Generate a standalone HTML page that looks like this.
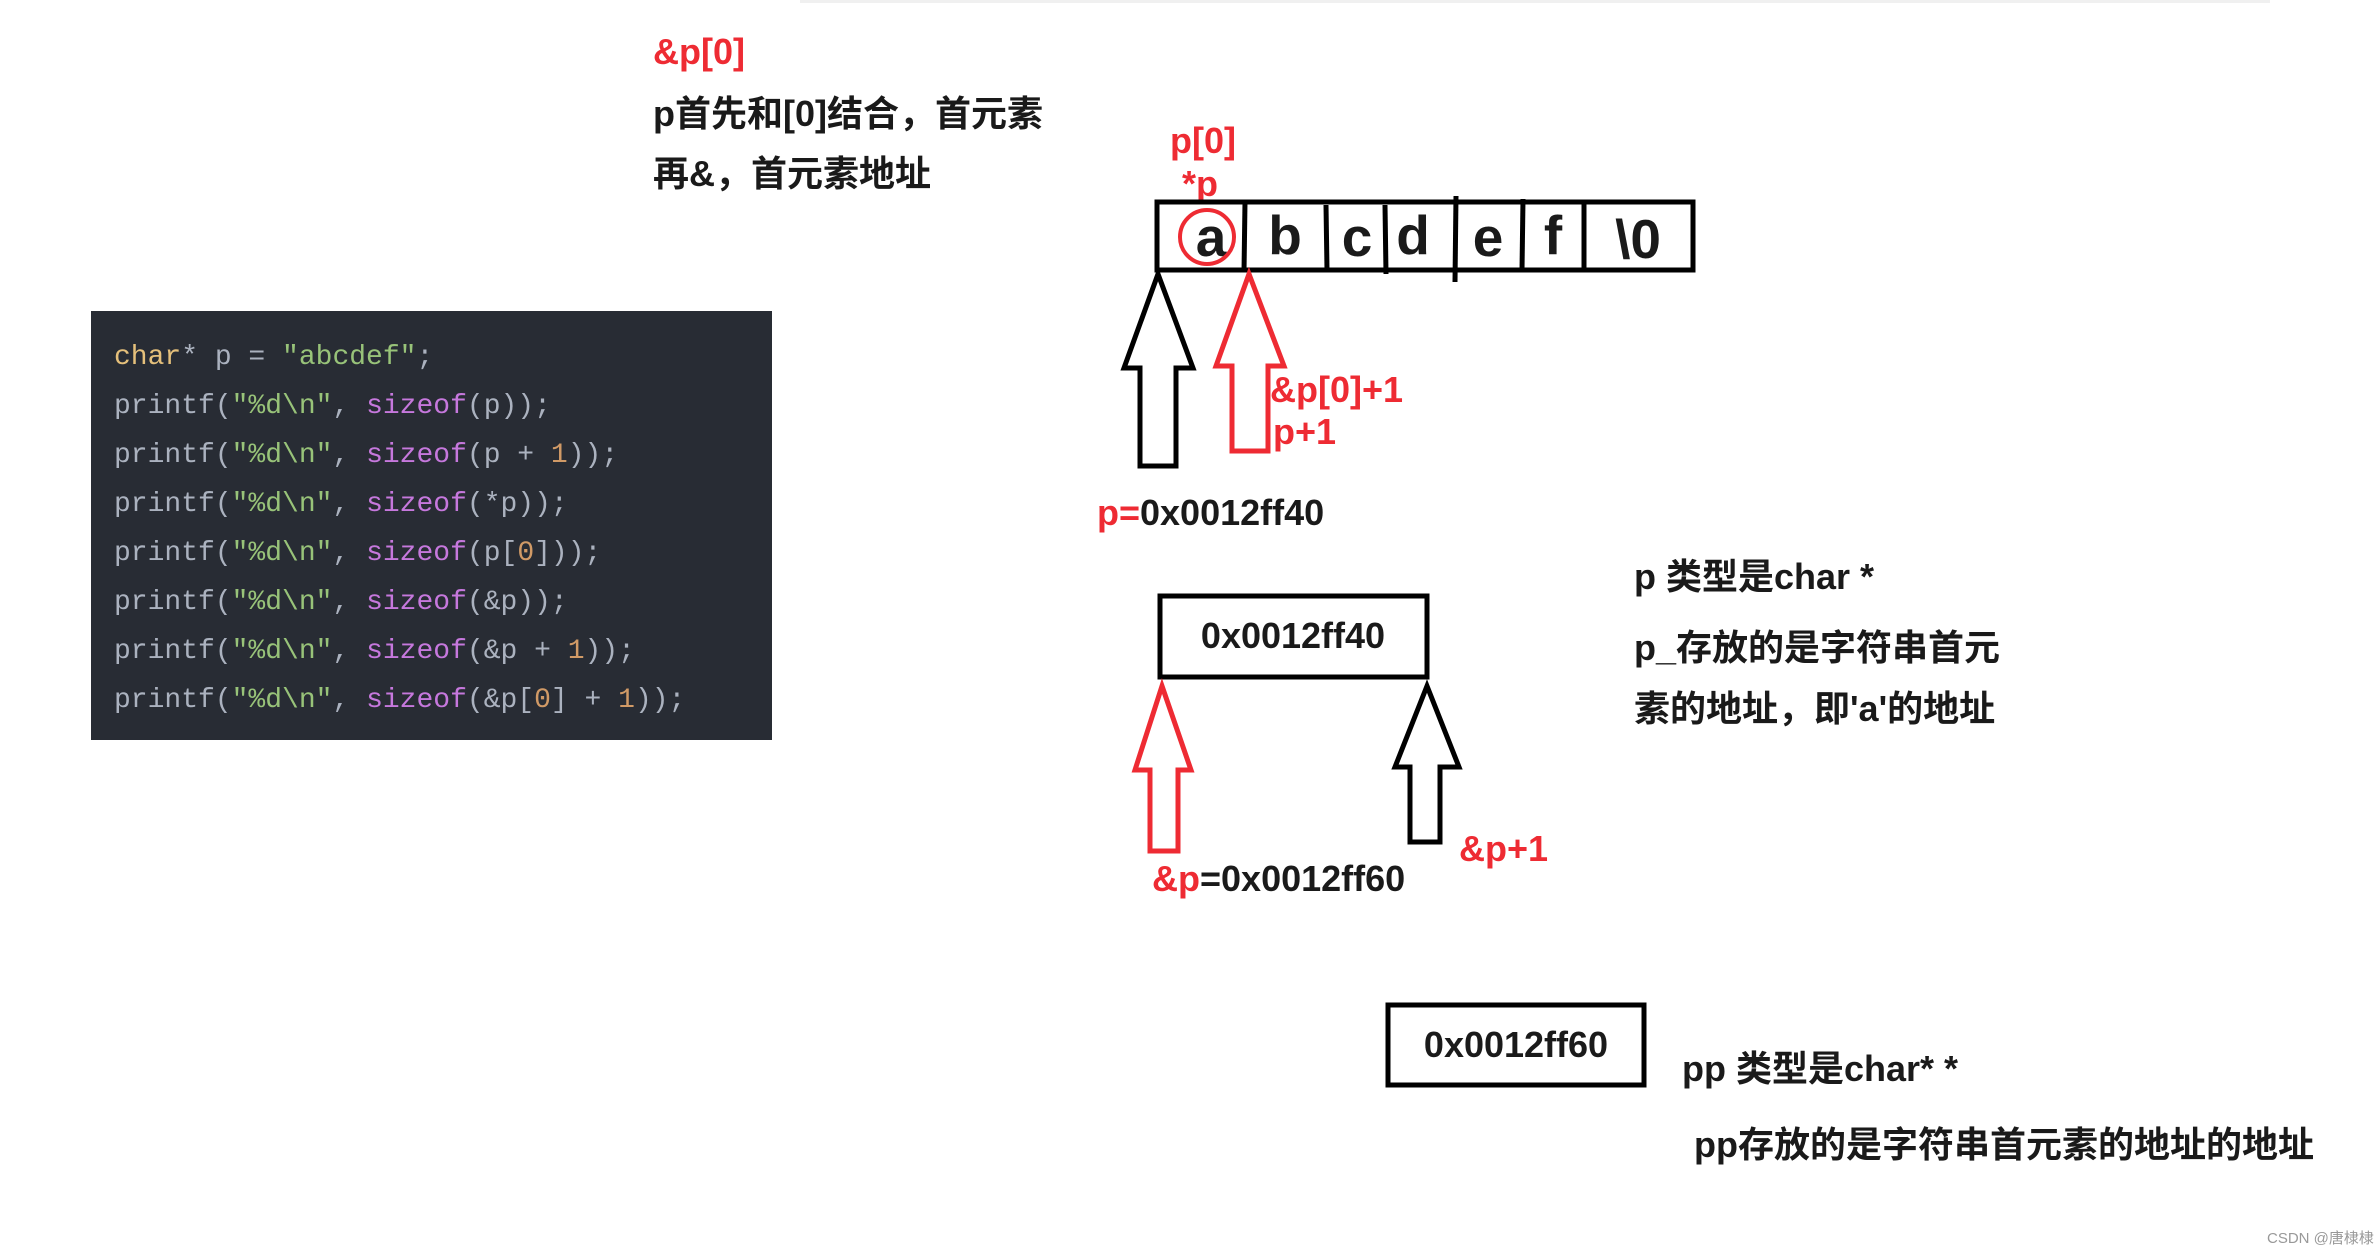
<!DOCTYPE html>
<html><head><meta charset="utf-8"><style>
html,body{margin:0;padding:0;background:#fff;}
svg{display:block;}
.t{font-family:"Liberation Sans","Noto Sans CJK SC",sans-serif;font-weight:bold;font-size:36px;fill:#1a1a1a;}
.r{fill:#ee2b33;}
.code{font-family:"Liberation Mono",monospace;font-size:28px;fill:#abb2bf;}
</style></head><body>
<svg width="2375" height="1249" viewBox="0 0 2375 1249" xmlns="http://www.w3.org/2000/svg">
<rect x="800" y="0" width="1470" height="3" fill="#f0f0f0"/>
<text class="t r" x="653" y="64">&amp;p[0]</text>
<text class="t" x="653" y="126">p首先和[0]结合，首元素</text>
<text class="t" x="653" y="186">再&amp;，首元素地址</text>

<rect x="91" y="311" width="681" height="429" fill="#282c34"/>
<g class="code">
<text x="114" y="364"><tspan fill="#e5c07b">char</tspan>* p = <tspan fill="#98c379">"abcdef"</tspan>;</text>
<text x="114" y="413">printf(<tspan fill="#98c379">"%d\n"</tspan>, <tspan fill="#c678dd">sizeof</tspan>(p));</text>
<text x="114" y="462">printf(<tspan fill="#98c379">"%d\n"</tspan>, <tspan fill="#c678dd">sizeof</tspan>(p + <tspan fill="#d19a66">1</tspan>));</text>
<text x="114" y="511">printf(<tspan fill="#98c379">"%d\n"</tspan>, <tspan fill="#c678dd">sizeof</tspan>(*p));</text>
<text x="114" y="560">printf(<tspan fill="#98c379">"%d\n"</tspan>, <tspan fill="#c678dd">sizeof</tspan>(p[<tspan fill="#d19a66">0</tspan>]));</text>
<text x="114" y="609">printf(<tspan fill="#98c379">"%d\n"</tspan>, <tspan fill="#c678dd">sizeof</tspan>(&amp;p));</text>
<text x="114" y="658">printf(<tspan fill="#98c379">"%d\n"</tspan>, <tspan fill="#c678dd">sizeof</tspan>(&amp;p + <tspan fill="#d19a66">1</tspan>));</text>
<text x="114" y="707">printf(<tspan fill="#98c379">"%d\n"</tspan>, <tspan fill="#c678dd">sizeof</tspan>(&amp;p[<tspan fill="#d19a66">0</tspan>] + <tspan fill="#d19a66">1</tspan>));</text>
</g>

<text class="t r" x="1170" y="153">p[0]</text>
<text class="t r" x="1182" y="196">*p</text>
<rect x="1157" y="202" width="536" height="68" fill="none" stroke="#000" stroke-width="5"/>
<g stroke="#000" stroke-width="5">
<line x1="1245" y1="202" x2="1244" y2="272"/>
<line x1="1326" y1="205" x2="1327" y2="270"/>
<line x1="1385" y1="205" x2="1386" y2="274"/>
<line x1="1456" y1="196" x2="1455" y2="282"/>
<line x1="1523" y1="199" x2="1522" y2="270"/>
<line x1="1584" y1="203" x2="1584" y2="270"/>
</g>
<g class="t" style="font-size:55px" text-anchor="middle">
<text x="1211" y="256">a</text><text x="1285" y="254">b</text><text x="1357" y="256">c</text><text x="1413" y="254">d</text><text x="1488" y="256">e</text><text x="1553" y="254">f</text><text x="1638" y="258">\0</text>
</g>
<circle cx="1207" cy="237" r="27" fill="none" stroke="#ee2b33" stroke-width="4"/>

<polygon points="1158,274 1193,368 1176,368 1176,466 1140,466 1140,368 1124,368" fill="none" stroke="#000" stroke-width="5" stroke-linejoin="miter"/>
<polygon points="1249,274 1284,366 1268,366 1268,451 1232,451 1232,366 1216,366" fill="none" stroke="#ee2b33" stroke-width="5"/>
<text class="t r" x="1270" y="402">&amp;p[0]+1</text>
<text class="t r" x="1273" y="444">p+1</text>
<text class="t" x="1097" y="525"><tspan class="r">p=</tspan>0x0012ff40</text>

<rect x="1160" y="596" width="267" height="81" fill="none" stroke="#000" stroke-width="5"/>
<text class="t" x="1293" y="648" text-anchor="middle">0x0012ff40</text>
<polygon points="1162,686 1191,770 1178,770 1178,851 1150,851 1150,770 1135,770" fill="none" stroke="#ee2b33" stroke-width="5"/>
<polygon points="1427,686 1459,767 1440,767 1440,842 1410,842 1410,767 1395,767" fill="none" stroke="#000" stroke-width="5"/>
<text class="t" x="1152" y="891"><tspan class="r">&amp;p</tspan>=0x0012ff60</text>
<text class="t r" x="1459" y="861">&amp;p+1</text>

<text class="t" x="1634" y="589">p 类型是char *</text>
<text class="t" x="1634" y="660">p_存放的是字符串首元</text>
<text class="t" x="1634" y="721">素的地址，即'a'的地址</text>

<rect x="1388" y="1005" width="256" height="80" fill="none" stroke="#000" stroke-width="5"/>
<text class="t" x="1516" y="1057" text-anchor="middle">0x0012ff60</text>
<text class="t" x="1682" y="1081">pp 类型是char* *</text>
<text class="t" x="1694" y="1157">pp存放的是字符串首元素的地址的地址</text>

<text x="2267" y="1243" font-family="Liberation Sans,'Noto Sans CJK SC',sans-serif" font-size="15" fill="#999">CSDN @唐棣棣</text>
</svg>
</body></html>
